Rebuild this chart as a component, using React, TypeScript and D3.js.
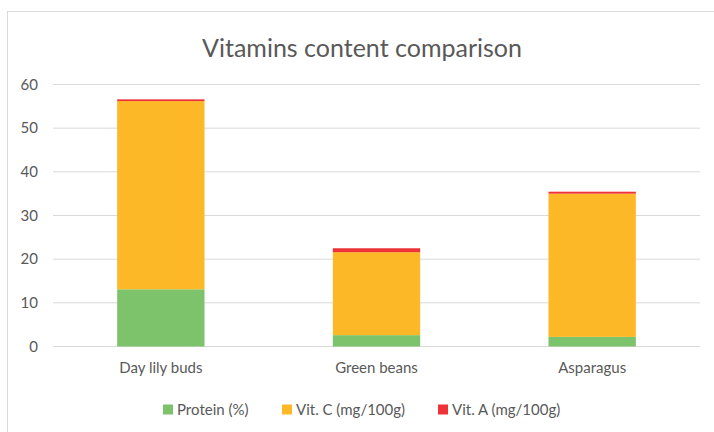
import React, { useEffect, useRef } from 'react';
import * as d3 from 'd3';

const categories = ['Day lily buds', 'Green beans', 'Asparagus'];
const seriesNames = ['Protein (%)', 'Vit. C (mg/100g)', 'Vit. A (mg/100g)'];
const protein = [13.1, 2.6, 2.2];
const vitC = [43.1, 19.0, 32.8];
const vitA = [0.4, 0.9, 0.45];
const yTicks = [0, 10, 20, 30, 40, 50, 60];
const colors = ['#7DC36B', '#FDB827', '#EE3338'];

const App = () => {
  const ref = useRef<SVGSVGElement>(null);

  useEffect(() => {
    const svg = d3.select(ref.current);
    svg.selectAll('*').remove();
    const font = 'Lato, "Open Sans", sans-serif';
    const textColor = '#595959';

    svg.append('rect')
      .attr('x', 7.5).attr('y', 11.5)
      .attr('width', 720).attr('height', 440)
      .attr('fill', '#fff').attr('stroke', '#d9d9d9');

    svg.append('text')
      .attr('x', 362).attr('y', 57)
      .attr('text-anchor', 'middle')
      .attr('font-family', font).attr('font-size', 25)
      .attr('fill', textColor)
      .text('Vitamins content comparison');

    const x = d3.scaleBand().domain(categories).range([53, 700]);
    const y = d3.scaleLinear().domain([0, 60]).range([346.5, 84.5]);

    const grid = svg.append('g');
    grid.selectAll('line').data(yTicks).enter().append('line')
      .attr('x1', 53).attr('x2', 700)
      .attr('y1', d => y(d)).attr('y2', d => y(d))
      .attr('stroke', '#d9d9d9').attr('stroke-width', 1);

    grid.selectAll('text').data(yTicks).enter().append('text')
      .attr('x', 38).attr('y', d => y(d) + 5)
      .attr('text-anchor', 'end')
      .attr('font-family', font).attr('font-size', 15)
      .attr('fill', textColor)
      .text(d => d);

    const table = categories.map((c, i) => ({ cat: c, p: protein[i], c2: vitC[i], a: vitA[i] }));
    const stack = d3.stack<any>().keys(['p', 'c2', 'a'])(table);
    const barW = x.bandwidth() * 0.405;

    stack.forEach((layer, li) => {
      svg.append('g').selectAll('rect').data(layer).enter().append('rect')
        .attr('x', d => (x(d.data.cat) as number) + (x.bandwidth() - barW) / 2)
        .attr('y', d => y(d[1]))
        .attr('width', barW)
        .attr('height', d => y(d[0]) - y(d[1]))
        .attr('fill', colors[li]);
    });

    svg.append('g').selectAll('text').data(categories).enter().append('text')
      .attr('x', d => (x(d) as number) + x.bandwidth() / 2)
      .attr('y', 373)
      .attr('text-anchor', 'middle')
      .attr('font-family', font).attr('font-size', 15)
      .attr('fill', textColor)
      .text(d => d);

    const legendX = [163, 282, 438];
    const legend = svg.append('g');
    seriesNames.forEach((name, i) => {
      legend.append('rect')
        .attr('x', legendX[i]).attr('y', 404.5)
        .attr('width', 10).attr('height', 10)
        .attr('fill', colors[i]);
      legend.append('text')
        .attr('x', legendX[i] + 14).attr('y', 415)
        .attr('font-family', font).attr('font-size', 15)
        .attr('fill', textColor)
        .text(name);
    });
  }, []);

  return <svg ref={ref} width={714} height={432} style={{ position: 'absolute', left: 0, top: 0 }}></svg>;
};

export default App;
